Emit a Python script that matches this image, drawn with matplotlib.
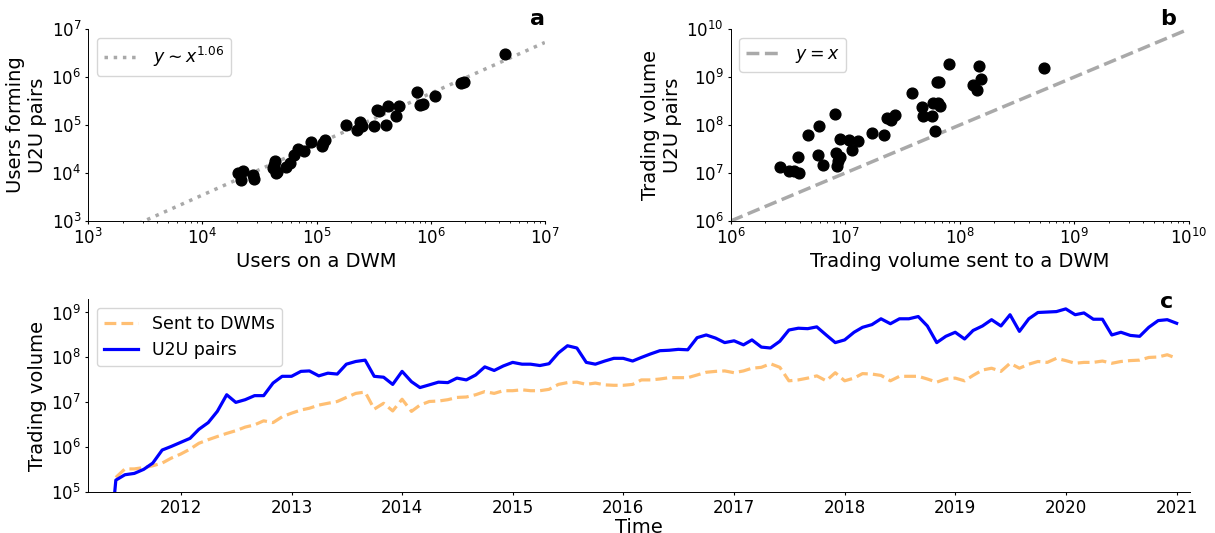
import matplotlib
matplotlib.use('Agg')
import matplotlib.pyplot as plt
import matplotlib.dates as mdates
from matplotlib.ticker import NullLocator
import pandas as pd
import numpy as np

# --- panel a: users on each DWM vs users forming U2U pairs
users_dwm = [4.46e6, 1.85e6, 1.95e6, 1.10e6, 7.55e5, 8.0e5, 8.5e5, 5.26e5, 5.0e5, 4.24e5,
             4.08e5, 3.41e5, 3.56e5, 3.18e5, 2.41e5, 2.48e5, 2.28e5, 1.81e5, 1.15e5, 1.19e5,
             1.12e5, 8.9e4, 7.8e4, 6.9e4, 6.3e4, 5.8e4, 5.4e4, 4.27e4, 4.17e4, 4.37e4,
             4.47e4, 4.3e4, 2.26e4, 2.03e4, 2.19e4, 2.75e4, 2.85e4]
users_u2u = [3.06e6, 7.7e5, 7.85e5, 4.0e5, 4.8e5, 2.6e5, 2.8e5, 2.53e5, 1.52e5, 2.45e5,
             1.0e5, 2.02e5, 2.0e5, 9.4e4, 1.14e5, 9.7e4, 8.0e4, 1.02e5, 4.2e4, 4.9e4,
             3.7e4, 4.4e4, 2.9e4, 3.2e4, 2.4e4, 1.6e4, 1.33e4, 1.5e4, 1.29e4, 1.0e4,
             1.05e4, 1.8e4, 1.12e4, 1.0e4, 7.2e3, 9.3e3, 7.5e3]
fit_exponent = 1.06
fit_prefactor = 0.2

# --- panel b: trading volume sent to each DWM vs U2U volume
vol_dwm = [2.7e6, 3.24e6, 3.55e6, 3.95e6, 3.9e6, 4.75e6, 5.75e6, 5.93e6, 6.38e6, 8.07e6,
           8.37e6, 8.45e6, 8.57e6, 9.08e6, 8.95e6, 1.08e7, 1.15e7, 1.29e7, 1.70e7, 2.2e7,
           2.31e7, 2.49e7, 2.74e7, 3.87e7, 4.72e7, 4.83e7, 5.68e7, 5.81e7, 6.15e7, 6.53e7,
           6.73e7, 6.31e7, 6.61e7, 8.15e7, 1.30e8, 1.42e8, 1.48e8, 1.53e8, 5.4e8]
vol_u2u = [1.36e7, 1.08e7, 1.12e7, 9.8e6, 2.12e7, 6.3e7, 2.41e7, 9.4e7, 1.49e7, 1.69e8,
           2.61e7, 1.42e7, 1.81e7, 2.12e7, 5.02e7, 4.88e7, 3.01e7, 4.72e7, 6.7e7, 6.1e7,
           1.4e8, 1.29e8, 1.61e8, 4.65e8, 2.33e8, 1.56e8, 1.54e8, 2.87e8, 7.4e7, 2.92e8,
           2.53e8, 8.0e8, 7.9e8, 1.87e9, 6.8e8, 5.45e8, 1.67e9, 8.9e8, 1.56e9]

# --- panel c: monthly trading volume (log10), May 2011 - Jan 2021
months = pd.date_range('2011-05-01', '2021-01-01', freq='MS')
sent_log = [np.nan,
    5.33, 5.52, 5.52, 5.55, 5.59, 5.65, 5.76, 5.85, 5.96, 6.09, 6.17, 6.24,
    6.31, 6.37, 6.45, 6.50, 6.59, 6.55, 6.68, 6.76, 6.83, 6.87, 6.94, 6.98,
    7.02, 7.11, 7.20, 7.23, 6.85, 6.98, 6.81, 7.07, 6.80, 6.94, 7.02, 7.03,
    7.06, 7.11, 7.12, 7.17, 7.24, 7.20, 7.26, 7.26, 7.28, 7.26, 7.26, 7.29,
    7.40, 7.44, 7.45, 7.40, 7.43, 7.39, 7.38, 7.38, 7.40, 7.50, 7.50, 7.52,
    7.55, 7.55, 7.55, 7.61, 7.67, 7.69, 7.70, 7.66, 7.70, 7.76, 7.78, 7.86,
    7.78, 7.48, 7.50, 7.54, 7.59, 7.48, 7.66, 7.48, 7.54, 7.64, 7.63, 7.60,
    7.48, 7.58, 7.58, 7.58, 7.52, 7.45, 7.52, 7.54, 7.48, 7.60, 7.72, 7.76,
    7.69, 7.87, 7.76, 7.85, 7.91, 7.89, 7.98, 7.93, 7.87, 7.89, 7.89, 7.92,
    7.87, 7.91, 7.93, 7.94, 8.00, 8.01, 8.06, 7.98]
u2u_log = [3.0,
    5.27, 5.39, 5.42, 5.51, 5.65, 5.94, 6.02, 6.11, 6.20, 6.40, 6.55, 6.80,
    7.17, 7.00, 7.06, 7.15, 7.15, 7.43, 7.58, 7.58, 7.69, 7.70, 7.59, 7.65,
    7.63, 7.85, 7.91, 7.94, 7.58, 7.56, 7.40, 7.69, 7.46, 7.33, 7.39, 7.45,
    7.44, 7.54, 7.50, 7.61, 7.79, 7.71, 7.81, 7.89, 7.85, 7.85, 7.82, 7.86,
    8.10, 8.26, 8.21, 7.89, 7.85, 7.92, 7.98, 7.98, 7.92, 8.00, 8.08, 8.15,
    8.16, 8.18, 8.17, 8.44, 8.50, 8.43, 8.33, 8.37, 8.28, 8.39, 8.23, 8.21,
    8.36, 8.61, 8.65, 8.64, 8.68, 8.50, 8.33, 8.39, 8.56, 8.67, 8.73, 8.86,
    8.75, 8.86, 8.86, 8.91, 8.70, 8.33, 8.47, 8.56, 8.41, 8.60, 8.70, 8.84,
    8.70, 8.95, 8.58, 8.86, 9.00, 9.01, 9.02, 9.08, 8.95, 8.99, 8.85, 8.85,
    8.50, 8.56, 8.49, 8.47, 8.67, 8.82, 8.84, 8.76]

sent = 10 ** np.array(sent_log)
u2u = 10 ** np.array(u2u_log)

plt.rcParams['font.size'] = 12
plt.rcParams['axes.labelpad'] = 2.9
plt.rcParams['xtick.major.size'] = 2.5
plt.rcParams['ytick.major.size'] = 2.5
plt.rcParams['xtick.minor.size'] = 1.5
plt.rcParams['xtick.major.pad'] = 2.5
plt.rcParams['ytick.major.pad'] = 2.5
plt.rcParams['axes.linewidth'] = 0.7

fig = plt.figure(figsize=(12.15, 5.33), dpi=100)
ax_a = fig.add_axes([0.0727, 0.5854, 0.3757, 0.360])
ax_b = fig.add_axes([0.6014, 0.5854, 0.3769, 0.360])
ax_c = fig.add_axes([0.0724, 0.0764, 0.907, 0.3627])

# panel a
xfit = np.logspace(3, 7, 100)
ax_a.plot(xfit, fit_prefactor * xfit ** fit_exponent, ':', color='darkgray', lw=2.5,
          label=r'$y \sim x^{1.06}$')
ax_a.scatter(users_dwm, users_u2u, s=60, color='black', zorder=3)
ax_a.set_xscale('log')
ax_a.set_yscale('log')
ax_a.set_xlim(1e3, 1e7)
ax_a.set_ylim(1e3, 1e7)
ax_a.set_xlabel('Users on a DWM', fontsize=14)
ax_a.set_ylabel('Users forming\nU2U pairs', fontsize=14)
ax_a.legend(loc='upper left', fontsize=12.5)
ax_a.text(1.0, 1.02, 'a', transform=ax_a.transAxes, ha='right', va='baseline',
          fontsize=16, fontweight='bold')

# panel b
xline = np.logspace(6, 10, 50)
ax_b.plot(xline, xline, '--', color='darkgray', lw=2.5, label=r'$y = x$')
ax_b.scatter(vol_dwm, vol_u2u, s=60, color='black', zorder=3)
ax_b.set_xscale('log')
ax_b.set_yscale('log')
ax_b.set_xlim(1e6, 1e10)
ax_b.set_ylim(1e6, 1e10)
ax_b.set_xlabel('Trading volume sent to a DWM', fontsize=14)
ax_b.set_ylabel('Trading volume\nU2U pairs', fontsize=14)
ax_b.legend(loc='upper left', fontsize=12.5)
ax_b.text(0.972, 1.02, 'b', transform=ax_b.transAxes, ha='right', va='baseline',
          fontsize=16, fontweight='bold')

# panel c
ax_c.plot(months, sent, '--', color='darkorange', alpha=0.55, lw=2.3, label='Sent to DWMs')
ax_c.plot(months, u2u, '-', color='blue', lw=2.3, label='U2U pairs')
ax_c.set_yscale('log')
ax_c.set_ylim(1e5, 2e9)
ax_c.set_xlim(pd.Timestamp('2011-03-01'), pd.Timestamp('2021-02-14'))
ax_c.xaxis.set_major_locator(mdates.YearLocator())
ax_c.xaxis.set_major_formatter(mdates.DateFormatter('%Y'))
ax_c.set_xlabel('Time', fontsize=14, labelpad=0.5)
ax_c.set_ylabel('Trading volume', fontsize=14)
ax_c.legend(loc='upper left', fontsize=12.5)
ax_c.text(0.985, 0.953, 'c', transform=ax_c.transAxes, ha='right', va='baseline',
          fontsize=16, fontweight='bold')

for ax in (ax_a, ax_b, ax_c):
    ax.spines['top'].set_visible(False)
    ax.spines['right'].set_visible(False)
    ax.yaxis.set_minor_locator(NullLocator())
    ax.tick_params(labelsize=12)

fig.savefig('out.png', dpi=100)
